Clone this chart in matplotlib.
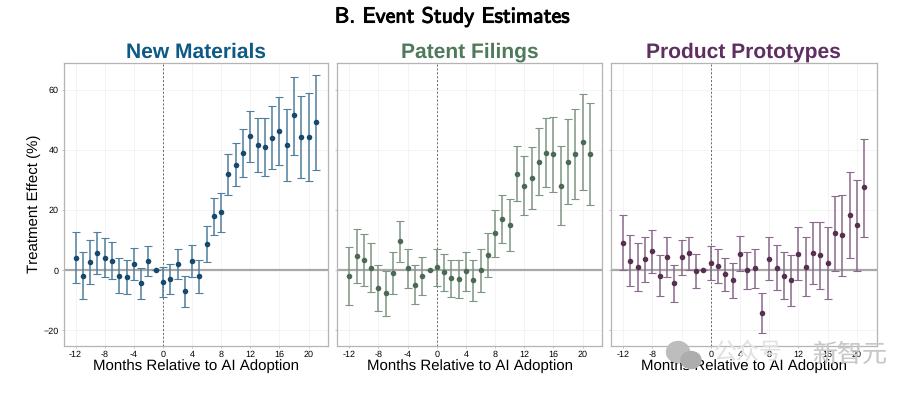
import matplotlib
matplotlib.use("Agg")
import matplotlib.pyplot as plt
import matplotlib.patheffects as pe
from matplotlib.patches import Ellipse

months = list(range(-12, 22))

mat_mean = [4.2,-2.0,2.7,5.8,4.2,3.2,-1.8,-2.2,2.0,-4.3,3.2,0,-3.8,-2.9,2.2,-7.0,3.2,-2.0,8.8,18.0,19.3,31.8,35.0,39.0,44.6,41.7,41.0,43.8,46.4,41.5,51.4,44.3,44.2,49.1]
mat_up = [12.8,5.9,10.1,12.8,10.6,9.3,4.1,3.4,7.5,0.9,8.2,0,1.2,2.2,7.2,-1.9,8.5,3.5,14.6,24.1,25.8,38.6,42.4,46.8,53.0,50.7,50.7,54.4,57.6,53.6,64.3,58.0,58.9,64.8]
mat_lo = [-4.1,-9.7,-4.7,-1.1,-2.2,-2.8,-7.5,-7.8,-3.1,-9.4,-1.9,0,-8.9,-7.8,-2.8,-12.2,-2.2,-7.4,2.9,11.8,12.8,24.9,27.9,31.0,36.0,32.7,31.3,33.5,35.0,29.8,38.2,30.6,29.5,33.4]

pat_mean = [-1.9,4.7,3.5,0.9,-5.9,-7.6,-0.9,9.7,0.7,-4.9,-1.8,0,1.0,-0.6,-2.7,-2.9,-0.2,-3.3,0,5.1,12.4,16.9,15.0,32.1,28.1,30.7,36.1,38.9,38.5,28.1,36.1,38.5,42.7,38.6]
pat_up = [7.8,13.7,12.1,9.0,1.9,-0.3,6.1,16.4,7.2,1.6,4.3,0,7.2,5.4,3.5,3.3,6.2,3.3,6.9,12.4,19.9,25.1,23.5,41.1,37.8,40.9,47.1,50.5,50.8,41.3,50.1,53.4,58.7,55.5]
pat_lo = [-11.4,-4.4,-5.1,-7.1,-13.4,-15.1,-7.9,2.9,-5.8,-11.1,-8.1,0,-5.2,-6.8,-8.9,-9.2,-6.8,-10.1,-7.1,-2.1,4.5,8.9,6.4,23.1,18.5,20.5,25.1,27.5,26.1,15.0,22.1,23.5,26.8,21.8]

pro_mean = [9.2,3.2,1.1,3.8,6.4,-1.9,4.4,-4.2,4.3,5.6,-0.2,0,2.5,1.4,-1.3,-3.3,5.4,0.1,0.6,-14.1,3.7,0.9,-1.8,-3.4,5.5,1.2,5.8,5.0,2.4,12.4,11.7,18.5,15.0,27.5]
pro_up = [18.2,11.6,9.2,11.2,13.5,4.9,10.9,1.9,10.2,11.2,5.4,0,8.2,7.0,4.2,2.5,11.4,6.2,6.9,-7.4,10.9,8.4,6.2,5.0,14.5,10.9,16.1,15.9,14.2,24.8,25.1,32.7,30.1,43.6]
pro_lo = [0.1,-5.2,-6.8,-3.8,-0.8,-8.5,-2.1,-10.4,-1.7,0,-5.8,0,-3.1,-4.1,-7.0,-9.1,-0.4,-6.1,-5.9,-20.7,-3.4,-6.5,-9.7,-12.0,-3.4,-8.5,-4.5,-6.1,-9.4,-0.1,-1.8,4.2,-0.3,11.2]

panel_titles = ["New Materials", "Patent Filings", "Product Prototypes"]
title_colors = ["#0f5a85", "#4f7a5b", "#5e2f60"]
bar_colors = ["#4f7f9e", "#7d9683", "#8a6a8c"]
dot_colors = ["#16496c", "#4a6a54", "#57304f"]
xticks = list(range(-12, 21, 4))
xtick_labels = ["-12", "-8", "-4", "0", "4", "8", "12", "16", "20"]
yticks = [-20, 0, 20, 40, 60]
ytick_labels = ["\u221220", "0", "20", "40", "60"]
series = [(mat_mean, mat_up, mat_lo), (pat_mean, pat_up, pat_lo), (pro_mean, pro_up, pro_lo)]

W, H = 918, 393
plt.rcParams['text.hinting'] = 'no_hinting'
plt.rcParams['text.hinting_factor'] = 1
plt.rcParams['font.family'] = ['Liberation Sans', 'DejaVu Sans']
fig = plt.figure(figsize=(W/100, H/100), dpi=100)
boxes = [(63.5, 328.3), (337.3, 602.3), (611, 876.7)]
top, bottom = 62.5, 345.5

for i, (l, r) in enumerate(boxes):
    ax = fig.add_axes([l/W, 1-bottom/H, (r-l)/W, (bottom-top)/H])
    m, up, lo = series[i]
    err = [[a-b for a, b in zip(m, lo)], [b-a for a, b in zip(m, up)]]
    ax.axhline(0, color="#a8a8a8", lw=1.6, zorder=1)
    ax.axvline(0, color="#666666", lw=0.7, ls=(0, (2, 2)), zorder=1)
    ax.errorbar(months, m, yerr=err, fmt='none', ecolor=bar_colors[i], elinewidth=1.1,
                capsize=3, capthick=0.8, zorder=2)
    ax.plot(months, m, 'o', ms=4.0, color=dot_colors[i], mew=0, zorder=3)
    ax.set_xlim(-13.65, 22.7)
    ax.set_ylim(-25.0, 69.0)
    ax.set_xticks(xticks, xtick_labels)
    ax.set_yticks(yticks, ytick_labels)
    ax.grid(True, color="#f0f0f0", lw=0.5)
    ax.set_axisbelow(True)
    ax.tick_params(axis='both', length=1.5, width=0.5, color="#aaaaaa", labelsize=6.8, pad=2.2, labelcolor="#000000")
    if i > 0:
        ax.tick_params(axis='y', labelleft=False)
    for s in ax.spines.values():
        s.set_color("#b4b4b4")
        s.set_linewidth(0.9)
    ax.set_xlabel("Months Relative to AI Adoption", fontsize=11.15, labelpad=0.3)
    if i == 0:
        fig.text(34/W, 1-203.5/H, "Treatment Effect (%)", fontsize=10.9, rotation=90, ha='center', va='center')
    ax.set_title(panel_titles[i], color=title_colors[i], fontsize=14.8, fontweight='bold', pad=3)

t = fig.text(452/W, 1-17/H, "B. Event Study Estimates", ha='center', va='center',
             family='cmss10', fontsize=15.7, color='black')
t.set_path_effects([pe.withStroke(linewidth=0.7, foreground='black')])

# source watermark present in the reference
fig.text(748/W, 1-353/H, "公众号", family=['Noto Sans CJK SC', 'DejaVu Sans'], fontsize=16.5,
         color="#e2e2e2", ha='center', va='center', zorder=1)
fig.text(850/W, 1-355/H, "新智元", family=['Noto Sans CJK SC', 'DejaVu Sans'], fontsize=18,
         color="#c8c8c8", ha='center', va='center', zorder=1)
fig.add_artist(Ellipse((678/W, 1-352/H), 23/W, 21/H, color="#bdbdbd", transform=fig.transFigure, zorder=0.5))
fig.add_artist(Ellipse((691/W, 1-360/H), 20/W, 17/H, color="#adadad", transform=fig.transFigure, zorder=0.5))

fig.savefig("out.png", dpi=100)
